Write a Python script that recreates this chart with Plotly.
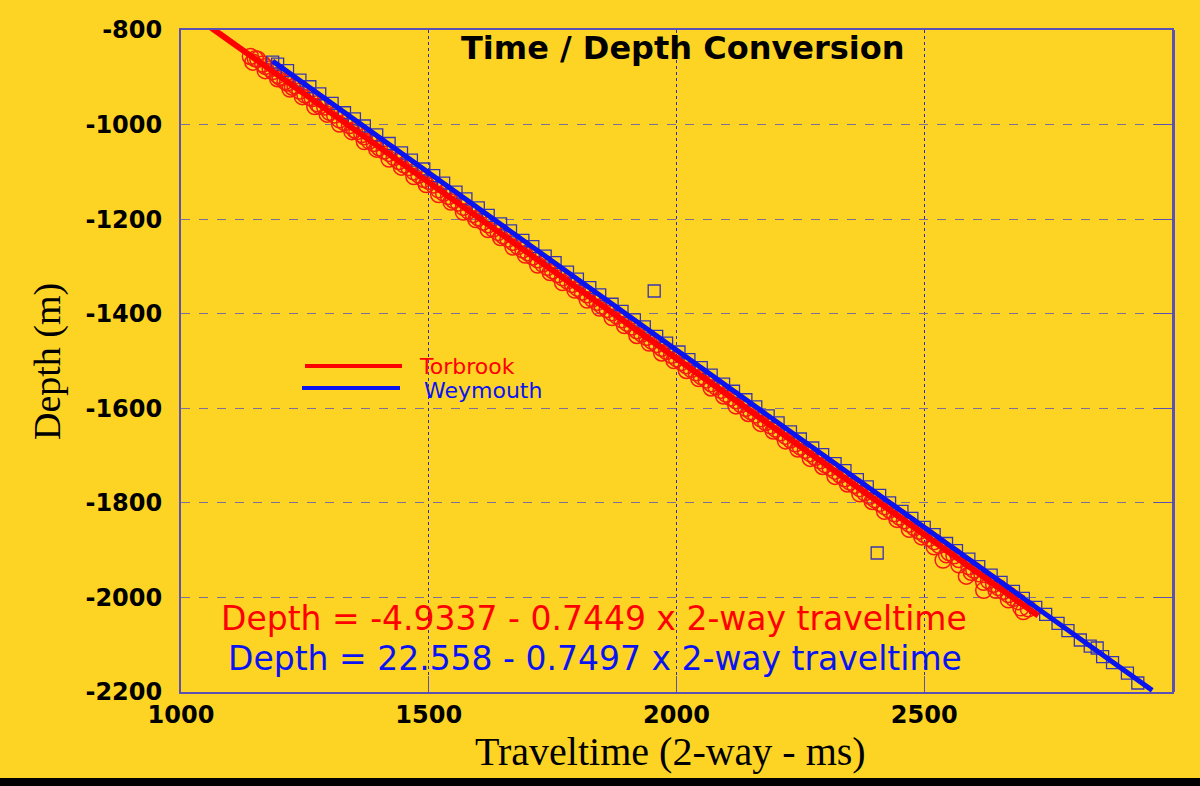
import plotly.graph_objects as go

# ---------------- data ----------------
torbrook_t = [1140, 1150, 1155, 1165, 1170, 1180, 1185, 1195, 1200, 1210, 1215, 1225, 1230, 1240,
              1250, 1260, 1265, 1275, 1280, 1290, 1300, 1310, 1320, 1330, 1340, 1350, 1355, 1365,
              1370, 1380, 1390, 1400, 1410, 1420, 1430, 1440, 1450, 1460, 1470, 1480, 1490, 1500,
              1510, 1520, 1530, 1540, 1550, 1560, 1570, 1580, 1590, 1600, 1610, 1620, 1630, 1640,
              1650, 1660, 1670, 1680, 1690, 1700, 1710, 1720, 1730, 1740, 1750, 1760, 1770, 1780,
              1790, 1800, 1810, 1820, 1830, 1840, 1850, 1860, 1870, 1880, 1890, 1900, 1910, 1920,
              1930, 1940, 1950, 1960, 1970, 1980, 1990, 2000, 2010, 2020, 2030, 2040, 2050, 2060,
              2070, 2080, 2090, 2100, 2110, 2120, 2130, 2140, 2150, 2160, 2170, 2180, 2190, 2200,
              2210, 2220, 2230, 2240, 2250, 2260, 2270, 2280, 2290, 2300, 2310, 2320, 2330, 2340,
              2350, 2360, 2370, 2380, 2390, 2400, 2410, 2420, 2430, 2440, 2450, 2460, 2470, 2480,
              2490, 2500, 2510, 2520, 2530, 2538, 2550, 2560, 2570, 2585, 2590, 2600, 2610, 2620,
              2630, 2640, 2650, 2660, 2670, 2680, 2690, 2700, 2710,
              1145, 1170, 1195, 1220, 1245, 1270, 1295, 1320, 1345, 1370, 1395, 1420, 1445, 1470,
              1495, 1520, 1545, 1570, 1595, 1620, 1645, 1670, 1695, 1720, 1745, 1770, 1795, 1820,
              1845, 1870, 1895, 1920, 1945, 1970, 1995, 2020, 2045, 2070, 2095, 2120, 2145, 2170,
              2195, 2220, 2245, 2270, 2295, 2320, 2345, 2370, 2395, 2420, 2445, 2470, 2495, 2520,
              2545, 2570, 2595, 2620, 2645, 2670, 2695]
torbrook_d = [-856, -861, -862, -872, -877, -882, -888, -896, -900, -909, -912, -921, -918, -929,
              -937, -943, -945, -956, -961, -963, -974, -980, -990, -996, -1002, -1011, -1015, -1021,
              -1026, -1035, -1040, -1049, -1056, -1061, -1070, -1078, -1085, -1091, -1100, -1107, -1116, -1120,
              -1128, -1138, -1145, -1152, -1160, -1166, -1175, -1183, -1190, -1197, -1206, -1212, -1221, -1228,
              -1235, -1242, -1249, -1258, -1265, -1271, -1280, -1286, -1295, -1302, -1309, -1317, -1324, -1331,
              -1338, -1346, -1354, -1360, -1369, -1376, -1384, -1391, -1398, -1405, -1413, -1420, -1428, -1436,
              -1443, -1450, -1458, -1465, -1473, -1480, -1488, -1495, -1503, -1510, -1518, -1525, -1533, -1540,
              -1548, -1555, -1562, -1570, -1578, -1584, -1592, -1600, -1607, -1614, -1622, -1630, -1637, -1644,
              -1652, -1659, -1667, -1675, -1682, -1689, -1696, -1704, -1711, -1719, -1726, -1733, -1741, -1749,
              -1756, -1763, -1770, -1779, -1786, -1793, -1801, -1808, -1815, -1823, -1830, -1838, -1845, -1853,
              -1860, -1867, -1875, -1882, -1890, -1921, -1905, -1912, -1920, -1955, -1935, -1942, -1950, -1985,
              -1965, -1972, -1979, -1987, -1994, -2002, -2009, -2030, -2024,
              -868, -886, -903, -925, -941, -962, -978, -999, -1015, -1036, -1052, -1073, -1090, -1110,
              -1127, -1148, -1164, -1185, -1201, -1222, -1239, -1259, -1276, -1297, -1313, -1334, -1350, -1371,
              -1388, -1408, -1425, -1446, -1462, -1483, -1499, -1520, -1537, -1557, -1574, -1595, -1611, -1632,
              -1648, -1669, -1686, -1706, -1723, -1744, -1760, -1781, -1797, -1818, -1835, -1856, -1872, -1893,
              -1910, -1931, -1947, -1968, -1985, -2005, -2022]

weymouth_t = [1185, 1195, 1215, 1240, 1260, 1280, 1305, 1330, 1350, 1370, 1395, 1420, 1445, 1465,
              1490, 1510, 1530, 1555, 1575, 1600, 1620, 1645, 1665, 1690, 1710, 1735, 1755, 1780,
              1800, 1825, 1845, 1870, 1890, 1915, 1935, 1955, 1960, 1980, 2005, 2025, 2050, 2070,
              2095, 2115, 2140, 2160, 2185, 2205, 2230, 2250, 2275, 2295, 2320, 2340, 2365, 2385,
              2405, 2410, 2430, 2455, 2475, 2500, 2520, 2545, 2565, 2590, 2610, 2635, 2655, 2680,
              2700, 2725, 2745, 2770, 2790, 2815, 2835, 2849, 2860, 2880, 2910, 2931]
weymouth_d = [-868, -872, -886, -906, -920, -935, -955, -975, -988, -1003, -1022, -1040, -1060, -1075,
              -1094, -1108, -1124, -1143, -1157, -1176, -1192, -1210, -1225, -1245, -1258, -1278, -1292, -1312,
              -1327, -1345, -1360, -1380, -1395, -1413, -1428, -1352, -1448, -1462, -1481, -1497, -1514, -1530,
              -1549, -1564, -1582, -1597, -1616, -1631, -1650, -1665, -1684, -1698, -1717, -1732, -1751, -1766,
              -1906, -1784, -1800, -1818, -1833, -1852, -1867, -1886, -1901, -1919, -1935, -1953, -1968, -1987,
              -2002, -2021, -2036, -2055, -2070, -2090, -2103, -2107, -2125, -2138, -2160, -2181]

# regression line end points
torbrook_fit_t = [1060, 2730]
torbrook_fit_d = [-794.5, -2038.5]
weymouth_fit_t = [1185, 2960]
weymouth_fit_d = [-865.8, -2196.6]

x_ticks = [1000, 1500, 2000, 2500, 3000]
y_ticks = [-800, -1000, -1200, -1400, -1600, -1800, -2000, -2200]

# ---------------- styling ----------------
BG = "#FDD424"
FRAME = "#5B50B4"
fig = go.Figure()

fig.add_trace(go.Scatter(x=torbrook_t, y=torbrook_d, mode="markers", showlegend=False,
                         marker=dict(symbol="circle-open", size=16, color="#F51A10",
                                     line=dict(width=1.5, color="#F51A10")), hoverinfo="skip"))
fig.add_trace(go.Scatter(x=weymouth_t, y=weymouth_d, mode="markers", showlegend=False,
                         marker=dict(symbol="square-open", size=12, color="#3A34B0",
                                     line=dict(width=1.3, color="#3A34B0")), hoverinfo="skip"))
fig.add_trace(go.Scatter(x=torbrook_fit_t, y=torbrook_fit_d, mode="lines", showlegend=False,
                         line=dict(color="#FF0000", width=6), hoverinfo="skip"))
fig.add_trace(go.Scatter(x=weymouth_fit_t, y=weymouth_fit_d, mode="lines", showlegend=False,
                         yaxis="y2", line=dict(color="#0A14F0", width=5), hoverinfo="skip"))

tickfont = dict(family="DejaVu Sans", size=24, color="black", weight="bold")

fig.update_layout(
    width=1200, height=786,
    margin=dict(l=181, r=28, t=30, b=94),
    paper_bgcolor=BG, plot_bgcolor=BG,
    showlegend=False,
    xaxis=dict(range=[1000, 3000], tickvals=x_ticks, ticktext=[str(v) for v in x_ticks],
               showgrid=True, gridcolor="#2A2AD0", griddash="dot", gridwidth=1,
               showline=True, linecolor=FRAME, linewidth=2, mirror=True,
               ticks="inside", ticklen=16, tickcolor=FRAME, tickwidth=1,
               tickfont=tickfont, zeroline=False, ticklabelstandoff=0),
    yaxis=dict(range=[-2200, -800], tickvals=y_ticks, ticktext=[str(v) for v in y_ticks],
               showgrid=True, gridcolor="#7F6E98", griddash="dash", gridwidth=1,
               showline=True, linecolor=FRAME, linewidth=2, mirror=True,
               ticks="", tickfont=tickfont, zeroline=False, ticklabelstandoff=12),
    yaxis2=dict(range=[-2200, -800], tickvals=y_ticks, overlaying="y", side="right",
                showticklabels=False, showgrid=False, zeroline=False,
                ticks="inside", ticklen=18, tickcolor=FRAME, tickwidth=1,
                showline=True, linecolor=FRAME, linewidth=3),
)

def px2p(x, y):
    return (x - 181) / 991, (692 - y) / 662

shapes = []
# legend lines
for (x0, x1, y, col) in [(305, 402, 366, "#FF0000"), (302, 400, 388, "#0A14F0")]:
    a, b = px2p(x0, y)
    c, _ = px2p(x1, y)
    shapes.append(dict(type="line", xref="paper", yref="paper", x0=a, x1=c, y0=b, y1=b,
                       line=dict(color=col, width=4)))
# black strip at bottom of the image
shapes.append(dict(type="rect", xref="paper", yref="paper", x0=-0.25, x1=1.1,
                   y0=(692 - 778) / 662, y1=(692 - 800) / 662,
                   fillcolor="black", line=dict(width=0), layer="above"))

annotations = []
def ann(text, x, y, size, color="black", family="DejaVu Sans", xanchor="center", angle=0, weight="normal"):
    xp, yp = px2p(x, y)
    annotations.append(dict(text=text, x=xp, y=yp, xref="paper", yref="paper", showarrow=False,
                            xanchor=xanchor, yanchor="middle", textangle=angle,
                            font=dict(family=family, size=size, color=color, weight=weight)))

ann("Time / Depth Conversion", 683, 48, 32, weight="bold")
ann("Torbrook", 417, 366, 22, color="#FF0000", xanchor="left")
ann("Weymouth", 422, 390, 22, color="#0A14F0", xanchor="left")
ann("Depth = -4.9337 - 0.7449 x 2-way traveltime", 594, 618, 33, color="#FF0000")
ann("Depth = 22.558 - 0.7497 x 2-way traveltime", 595, 658, 33, color="#0A14F0")
ann("Traveltime (2-way - ms)", 670, 752, 40, family="Liberation Serif")
ann("Depth (m)", 47, 362, 38, family="Liberation Serif", angle=-90)

fig.update_layout(shapes=shapes, annotations=annotations)
fig.write_html("out.html")
